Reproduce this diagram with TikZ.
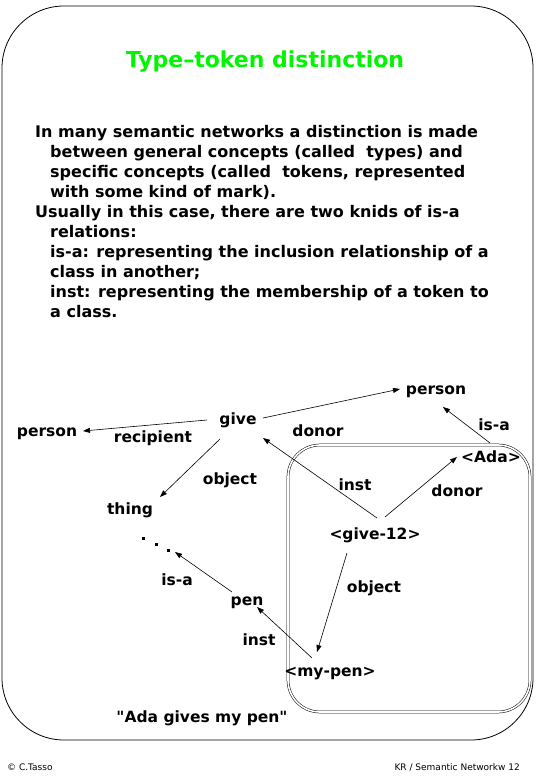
\documentclass[tikz,border=0pt]{standalone}
\usepackage{fontspec}
\setmainfont{DejaVu Sans}[Ligatures=TeXOff]
\usetikzlibrary{arrows.meta}
\definecolor{titlegreen}{RGB}{0,245,0}
\begin{document}
\begin{tikzpicture}[x=1pt,y=-1pt,
  lbl/.style={font=\bfseries\fontsize{15.5}{18}\selectfont, inner sep=0pt, text height=11pt, text depth=3pt},
  bodyline/.style={font=\bfseries\fontsize{16}{20}\selectfont, anchor=base west, inner sep=0pt},
  arr/.style={-{Triangle[length=7pt,width=5pt]}, line width=0.6pt},
  foot/.style={font=\fontsize{9}{10}\selectfont, inner sep=0pt}]
\useasboundingbox (0,0) rectangle (536,779);
% frames
\draw[line width=0.8pt, rounded corners=62] (2,6) rectangle (533,740);
\draw[double, double distance=1.6pt, line width=0.5pt, rounded corners=32] (288,445) rectangle (530,712);
% title
\node[font=\bfseries\fontsize{22}{26}\selectfont, text=titlegreen, anchor=base, inner sep=0pt] (title) at (265,67) {Type–token distinction};
% body
\node[bodyline] (l1) at (35,137) {In many semantic networks a distinction is made};
\node[bodyline] (l2) at (50,157) {between general concepts (called\ \ types) and};
\node[bodyline] (l3) at (50,177) {specific concepts (called\ \ tokens, represented};
\node[bodyline] (l4) at (50,197) {with some kind of mark).};
\node[bodyline] (l5) at (35,217) {Usually in this case, there are two knids of is-a};
\node[bodyline] (l6) at (50,237) {relations:};
\node[bodyline] (l7) at (50,257) {is-a: representing the inclusion relationship of a};
\node[bodyline] (l8) at (50,277) {class in another;};
\node[bodyline] (l9) at (50,297) {inst: representing the membership of a token to};
\node[bodyline] (l10) at (50,317) {a class.};
% nodes
\node[lbl] (personR) at (436,390) {person};
\node[lbl] (give) at (238,420) {give};
\node[lbl] (personL) at (47,432) {person};
\node[lbl] (ada) at (491,458) {<Ada>};
\node[lbl] (thing) at (130,510) {thing};
\node[lbl] (give12) at (375,535) {<give-12>};
\node[lbl] (pen) at (247,601) {pen};
\node[lbl] (mypen) at (330,672) {<my-pen>};
\coordinate (dots) at (168,550);
\fill (142,537) rectangle +(3,3);
\fill (155,543) rectangle +(3,3);
\fill (167,549) rectangle +(3,3);
% edge labels
\node[lbl] (recipient) at (153,438) {recipient};
\node[lbl] (donor1) at (318,432) {donor};
\node[lbl] (isa1) at (494,426) {is-a};
\node[lbl] (object1) at (230,480) {object};
\node[lbl] (inst1) at (355,486) {inst};
\node[lbl] (donor2) at (457,492) {donor};
\node[lbl] (isa2) at (177,581) {is-a};
\node[lbl] (object2) at (374,588) {object};
\node[lbl] (inst2) at (259,641) {inst};
\node[lbl] (quote) at (202,718) {"Ada gives my pen"};
% edges
\draw[arr] ([shift={(25,-2)}]give.center) -- ([shift={(-36,-1)}]personR.center);
\draw[arr] ([shift={(-31,0)}]give.center) -- ([shift={(36,-1)}]personL.center);
\draw[arr] ([shift={(-18,19)}]give.center) -- ([shift={(30,-13)}]thing.center);
\draw[arr] ([shift={(2,-17)}]give12.center) -- ([shift={(25,18)}]give.center);
\draw[arr] ([shift={(10,-18)}]give12.center) -- ([shift={(-34,-1)}]ada.center);
\draw[arr] ([shift={(-1,-15)}]ada.center) -- ([shift={(7,17)}]personR.center);
\draw[arr] ([shift={(-28,18)}]give12.center) -- ([shift={(-13,-20)}]mypen.center);
\draw[arr] ([shift={(-18,-14)}]mypen.center) -- ([shift={(10,6)}]pen.center);
\draw[arr] ([shift={(-15,-9)}]pen.center) -- ([shift={(7,2)}]dots);
% footer
\node[foot, anchor=base west] (copy) at (7,770) {© C.Tasso};
\node[foot, anchor=base east] (kr) at (520,770) {KR / Semantic Networkw 12};
\end{tikzpicture}
\end{document}
